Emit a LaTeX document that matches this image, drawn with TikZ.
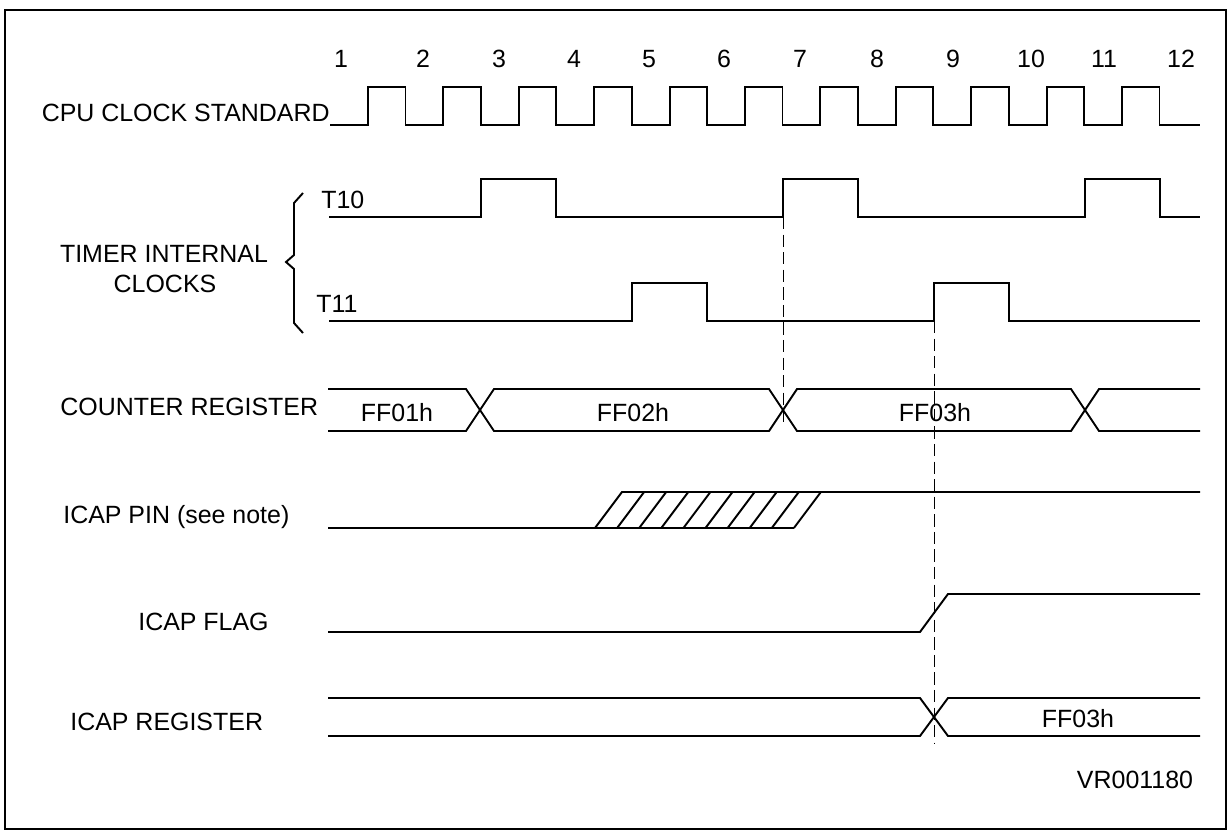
\documentclass[tikz,border=0pt]{standalone}
\usepackage{fontspec}
\setmainfont{Liberation Sans}

\begin{document}
\begin{tikzpicture}[
    x=0.02cm, y=-0.02cm,
    wave/.style={line width=1.1pt},
    guide/.style={dashed, dash pattern=on 7pt off 3pt, line width=0.5pt},
    frame/.style={line width=1.5pt},
    sig/.style={inner sep=0pt, font=\fontsize{14.2pt}{17pt}\selectfont}
]
    \useasboundingbox (0,0) rectangle (1232,835);
    \draw[frame] (5,10) rectangle (1226,829);

    % Numeros des cycles
    \foreach \n/\xx in {1/341,2/423,3/499,4/574,5/649,6/724,7/800,8/877,9/953,10/1031,11/1104,12/1181}
        \node[sig, anchor=base] (n\n) at (\xx,68) {\n};

    % Noms des signaux
    \node[sig, anchor=base east] (cpu) at (330,121) {CPU CLOCK STANDARD};
    \node[sig, anchor=base] (timer) at (164,262) {TIMER INTERNAL};
    \node[sig, anchor=base] (clocks) at (165,292) {CLOCKS};
    \node[sig, anchor=base west] (t10) at (321,208) {T10};
    \node[sig, anchor=base west] (t11) at (316,312) {T11};
    \node[sig, anchor=base west] (counter) at (60,415) {COUNTER REGISTER};
    \node[sig, anchor=base west] (pin) at (63,523) {ICAP PIN (see note)};
    \node[sig, anchor=base west] (flag) at (138,630) {ICAP FLAG};
    \node[sig, anchor=base west] (reg) at (70,730) {ICAP REGISTER};
    \node[sig, anchor=base] (ref) at (1135,788) {VR001180};

    % Accolade
    \draw[wave] (303,193) -- (294,203) -- (294,255) -- (286,262) -- (294,269) -- (294,323) -- (303,333);

    % Horloge CPU
    \draw[wave] (330,125) foreach \k in {0,...,10} {
        -- ({368+75.4*\k},125) -- ({368+75.4*\k},87)
        -- ({405.5+75.4*\k},87) -- ({405.5+75.4*\k},125) } -- (1200,125);

    % Horloges internes
    \draw[wave] (329,217) -- (481,217) -- (481,179) -- (556,179) -- (556,217)
        -- (783,217) -- (783,179) -- (858,179) -- (858,217)
        -- (1085,217) -- (1085,179) -- (1160,179) -- (1160,217) -- (1200,217);
    \draw[wave] (329,321) -- (632,321) -- (632,283) -- (707,283) -- (707,321)
        -- (934,321) -- (934,283) -- (1009,283) -- (1009,321) -- (1200,321);

    % Compteur
    \draw[wave] (328,389) -- (466,389) -- (494,431) -- (769,431) -- (797,389) -- (1071,389) -- (1099,431) -- (1200,431);
    \draw[wave] (328,431) -- (466,431) -- (494,389) -- (769,389) -- (797,431) -- (1071,431) -- (1099,389) -- (1200,389);
    \node[sig, anchor=base] (ff01) at (397,421) {FF01h};
    \node[sig, anchor=base] (ff02) at (633,421) {FF02h};
    \node[sig, anchor=base] (ff03) at (935,421) {FF03h};

    % Broche ICAP
    \draw[wave] (328,528) -- (794,528);
    \draw[wave] (595,528) -- (622,492) -- (1200,492);
    \foreach \i in {1,...,9}
        \draw[wave] ({595+22.1*\i},528) -- ({622+22.1*\i},492);

    % Drapeau ICAP
    \draw[wave] (328,632) -- (920,632) -- (948,594) -- (1200,594);

    % Registre ICAP
    \draw[wave] (328,698) -- (920,698) -- (948,736) -- (1200,736);
    \draw[wave] (328,736) -- (920,736) -- (948,698) -- (1200,698);
    \node[sig, anchor=base] (ff03b) at (1078,727) {FF03h};

    % Reperes
    \draw[guide] (783,217) -- (783,422);
    \draw[guide] (934,321) -- (934,743);
\end{tikzpicture}
\end{document}
